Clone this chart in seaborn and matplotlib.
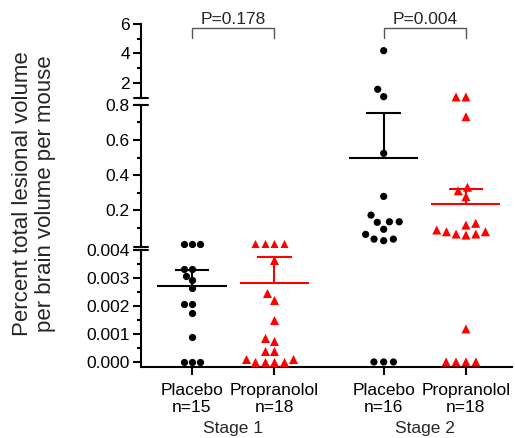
import numpy as np
import pandas as pd
import matplotlib
matplotlib.use("Agg")
import matplotlib.pyplot as plt
import seaborn as sns
from matplotlib.ticker import FixedLocator, FormatStrFormatter

# ---- values ----
groups = ["Placebo", "Propranolol", "Placebo", "Propranolol"]
n_labels = ["n=15", "n=18", "n=16", "n=18"]
stages = ["Stage 1", "Stage 2"]
p_values = ["P=0.178", "P=0.004"]

s1_placebo = [0.0042, 0.0042, 0.0042, 0.00333, 0.00333, 0.00307, 0.00292, 0.00264,
              0.00208, 0.00208, 0.00176, 0.0009, 0.0, 0.0, 0.0]
s1_propranolol = [0.0042, 0.0042, 0.0042, 0.0042, 0.00363, 0.00245, 0.00223, 0.0015,
                  0.00086, 0.00075, 0.0004, 0.0004, 0.0001, 0.0, 0.0, 0.0, 0.0, 0.0001]
s2_placebo = [4.19, 1.57, 1.07, 0.524, 0.278, 0.171, 0.133, 0.13, 0.133, 0.09,
              0.061, 0.034, 0.025, 0.034, 0.0, 0.0, 0.0]
s2_propranolol = [1.05, 1.05, 0.733, 0.33, 0.31, 0.276, 0.124, 0.114, 0.076, 0.063,
                  0.057, 0.063, 0.076, 0.086, 0.00118, 0.0, 0.0, 0.0, 0.0]

means = [0.00272, 0.00281, 0.499, 0.236]
sems = [0.00055, 0.00094, 0.257, 0.082]

# ---- layout ----
xpos = [0, 1, 2.33, 3.33]
colors = ["black", "red", "black", "red"]
fs = 12.5

rows = []
for x, g, vals in zip(xpos, groups, [s1_placebo, s1_propranolol, s2_placebo, s2_propranolol]):
    for v in vals:
        rows.append({"pos": x, "value": v, "drug": g})
df = pd.DataFrame(rows)


# which piece of the broken axis a value lives in
def segment(v):
    if v >= 0.9:
        return 0
    if v > 0.0041:
        return 1
    return 2


df["seg"] = df["value"].apply(segment)

sns.set_style("ticks")
plt.rcParams["font.family"] = ["Liberation Sans", "DejaVu Sans"]

fig = plt.figure(figsize=(5.15, 4.38), dpi=100)
left, width = 0.2738, 0.7204
ax_top = fig.add_axes([left, 0.7763, width, 0.1689])
ax_mid = fig.add_axes([left, 0.4361, width, 0.3242])
ax_bot = fig.add_axes([left, 0.1621, width, 0.2671])
axes = [ax_top, ax_mid, ax_bot]

# (drug, colour, marker, size, invisible edge used only to space the swarm)
styles = [("Placebo", "black", "o", 5.2, 1.5), ("Propranolol", "red", "^", 6.5, 0.3)]
for i, ax in enumerate(axes):
    part = df[df["seg"] == i]
    for drug, c, m, sz, pad in styles:
        d = part[part["drug"] == drug]
        if len(d) == 0:
            continue
        sns.swarmplot(data=d, x="pos", y="value", native_scale=True, orient="x",
                      color=c, marker=m, size=sz, linewidth=0, ax=ax)
        coll = ax.collections[-1]
        coll.set_edgecolor("none")
        coll.set_linewidth(pad)
        coll.set_clip_on(False)

# mean and SEM
for x, m, s, c in zip(xpos, means, sems, colors):
    ax = ax_bot if m < 0.0041 else ax_mid
    ax.hlines(m, x - 0.42, x + 0.42, color=c, lw=1.5, zorder=3)
    ax.vlines(x, m, m + s, color=c, lw=1.5, zorder=3)
    ax.hlines(m + s, x - 0.21, x + 0.21, color=c, lw=1.5, zorder=3)

# axes styling
ax_top.set_ylim(0.98, 6)
ax_top.yaxis.set_major_locator(FixedLocator([2, 4, 6]))
ax_top.yaxis.set_minor_locator(FixedLocator([1, 3, 5]))
ax_top.yaxis.set_major_formatter(FormatStrFormatter("%d"))

ax_mid.set_ylim(-0.011, 0.8)
ax_mid.yaxis.set_major_locator(FixedLocator([0.2, 0.4, 0.6, 0.8]))
ax_mid.yaxis.set_minor_locator(FixedLocator([0.1, 0.3, 0.5, 0.7]))
ax_mid.yaxis.set_major_formatter(FormatStrFormatter("%.1f"))

ax_bot.set_ylim(-0.00018, 0.004)
ax_bot.yaxis.set_major_locator(FixedLocator([0, 0.001, 0.002, 0.003, 0.004]))
ax_bot.yaxis.set_minor_locator(FixedLocator([0.0005, 0.0015, 0.0025, 0.0035]))
ax_bot.yaxis.set_major_formatter(FormatStrFormatter("%.3f"))

for ax in axes:
    ax.set_xlim(-0.62, 3.89)
    ax.set_xlabel("")
    ax.set_ylabel("")
    ax.spines[["top", "right"]].set_visible(False)
    ax.spines["left"].set_linewidth(1.5)
    ax.spines["left"].set_color("black")
    ax.tick_params(axis="y", which="major", length=5.5, width=1.5, labelsize=fs,
                   pad=2.5, color="black", labelcolor="black")
    ax.tick_params(axis="y", which="minor", length=3, width=1.5, color="black")

for ax in (ax_top, ax_mid):
    ax.spines["bottom"].set_visible(False)
    ax.tick_params(axis="x", which="both", bottom=False, labelbottom=False)

ax_bot.spines["bottom"].set_linewidth(1.5)
ax_bot.spines["bottom"].set_color("black")
ax_bot.set_xticks(xpos)
ax_bot.set_xticklabels([f"{g}\n{n}" for g, n in zip(groups, n_labels)],
                       fontsize=fs, linespacing=1.2)
ax_bot.tick_params(axis="x", which="major", length=5.5, width=1.5, pad=6,
                   color="black", labelcolor="black")
ax_bot.tick_params(axis="x", which="minor", bottom=False)


# break marks on the y axis
def brk(ax, y):
    ax.plot([-0.019, 0.019], [y, y], transform=ax.transAxes, color="black",
            lw=1.5, clip_on=False)


brk(ax_top, 0)
brk(ax_mid, 1)
brk(ax_mid, 0)
brk(ax_bot, 1)

# p-value brackets
pairs = [(xpos[0], xpos[1]), (xpos[2], xpos[3])]
trans = ax_top.get_xaxis_transform()
for (x0, x1), p in zip(pairs, p_values):
    ax_top.plot([x0, x0, x1, x1], [0.807, 0.942, 0.942, 0.807], transform=trans,
                color="#555555", lw=1.0, clip_on=False)
    ax_top.text((x0 + x1) / 2, 1.0, p, transform=trans, ha="center", va="baseline",
                fontsize=fs, clip_on=False)

# stage labels under the tick labels
for (x0, x1), st in zip(pairs, stages):
    ax_bot.annotate(st, xy=((x0 + x1) / 2, 0), xycoords=ax_bot.get_xaxis_transform(),
                    xytext=(0, -47.5), textcoords="offset points",
                    ha="center", va="baseline", fontsize=fs)

fig.text(34 / 515, 0.557, "Percent total lesional volume\nper brain volume per mouse",
         rotation=90, ha="center", va="center", fontsize=16, linespacing=1.1,
         multialignment="center")

fig.savefig("out.png", dpi=100)
